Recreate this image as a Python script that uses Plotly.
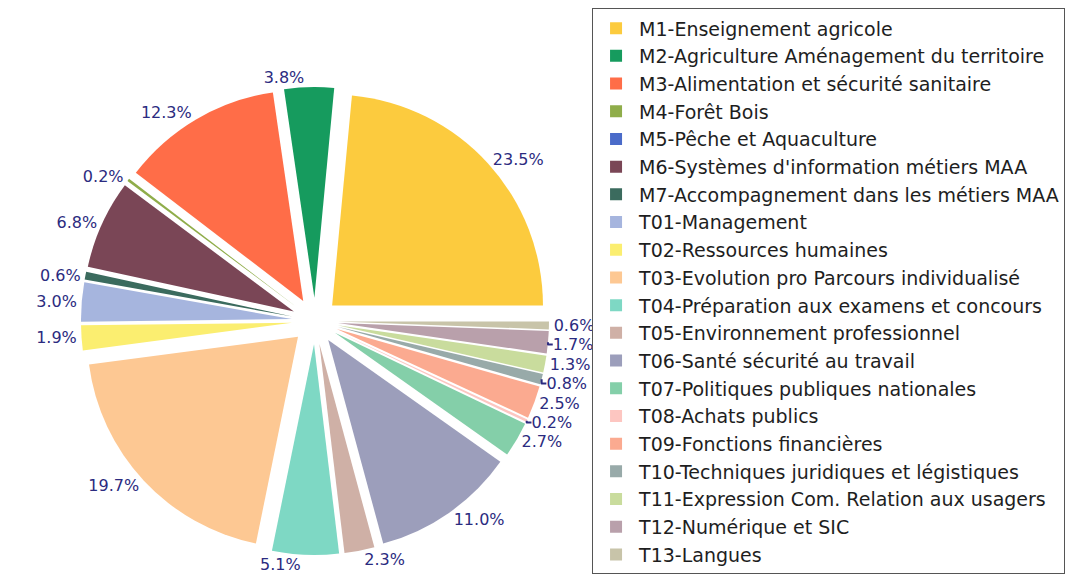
import plotly.graph_objects as go

labels = [
    "M1-Enseignement agricole",
    "M2-Agriculture Aménagement du territoire",
    "M3-Alimentation et sécurité sanitaire",
    "M4-Forêt Bois",
    "M5-Pêche et Aquaculture",
    "M6-Systèmes d'information métiers MAA",
    "M7-Accompagnement dans les métiers MAA",
    "T01-Management",
    "T02-Ressources humaines",
    "T03-Evolution pro Parcours individualisé",
    "T04-Préparation aux examens et concours",
    "T05-Environnement professionnel",
    "T06-Santé sécurité au travail",
    "T07-Politiques publiques nationales",
    "T08-Achats publics",
    "T09-Fonctions financières",
    "T10-Techniques juridiques et légistiques",
    "T11-Expression Com. Relation aux usagers",
    "T12-Numérique et SIC",
    "T13-Langues",
]
values = [23.5, 3.8, 12.3, 0.2, 0.0, 6.8, 0.6, 3.0, 1.9, 19.7,
          5.1, 2.3, 11.0, 2.7, 0.2, 2.5, 0.8, 1.3, 1.7, 0.6]
colors = ["#fccb3e", "#169b5e", "#ff6d48", "#8fad4a", "#4a6bc9", "#7a4656",
          "#3b6b5e", "#a6b5de", "#fbee70", "#fdc893", "#7ed8c4", "#cfb0a6",
          "#9c9ebb", "#84cfa9", "#fdc6c1", "#fbaa90", "#98aaa9", "#c9dc9d",
          "#b9a0ab", "#c8c4a9"]

texts = [f"{v:.1f}%" if v > 0 else "" for v in values]
# first slice starts at 3 o'clock and runs counterclockwise
start_rotation = 90 - 360 * values[0] / sum(values)

fig = go.Figure(go.Pie(
    labels=labels,
    values=values,
    text=texts,
    textinfo="text",
    textposition="outside",
    sort=False,
    direction="counterclockwise",
    rotation=start_rotation,
    pull=[0.11] * len(values),
    marker=dict(colors=colors, line=dict(width=0)),
    textfont=dict(color="#2b2b80", size=16, family="DejaVu Sans"),
    domain=dict(x=[0.0, 0.5711], y=[0.0617, 0.8645]),
))

fig.update_layout(
    width=1075, height=583,
    margin=dict(l=0, r=0, t=0, b=0, autoexpand=False),
    paper_bgcolor="white",
    font=dict(family="DejaVu Sans", color="#222222"),
    legend=dict(
        x=0.5433, y=0.9995, xanchor="left", yanchor="top",
        bordercolor="#555555", borderwidth=1, bgcolor="white",
        font=dict(size=19, color="#1e1e1e"),
        traceorder="normal",
        maxheight=583,
        itemwidth=36,
    ),
)

fig.write_html("out.html")
